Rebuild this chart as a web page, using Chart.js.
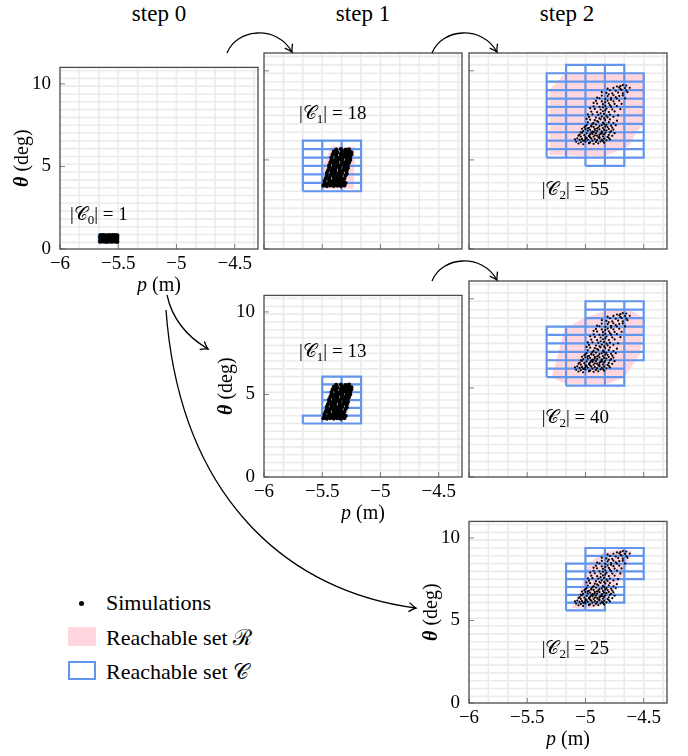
<!DOCTYPE html>
<html>
<head>
<meta charset="utf-8">
<script src="https://cdn.jsdelivr.net/npm/chart.js@4.4.1/dist/chart.umd.min.js"></script>
<style>
  body { margin: 0; background: #fff; }
  #page { position: relative; width: 688px; height: 756px; overflow: hidden; color: #000; }
  #page canvas { position: absolute; }
  .step { position: absolute; top: 2px; width: 120px; text-align: center; font-size: 23px; line-height: 1; }
  .leg { position: absolute; left: 106px; font-size: 22px; line-height: 1; white-space: nowrap; }
  svg { position: absolute; left: 0; top: 0; }
</style>
</head>
<body>
<div id="page" style="font-family:'Liberation Serif', serif">
  <div class="step" style="left:99px">step 0</div>
  <div class="step" style="left:303px">step 1</div>
  <div class="step" style="left:507px">step 2</div>

  <div style="position:absolute;left:79px;top:601px;width:5px;height:5px;border-radius:50%;background:#000"></div>
  <div class="leg" style="top:592px">Simulations</div>
  <div style="position:absolute;left:68px;top:627px;width:28px;height:19px;background:#ffd6de"></div>
  <div class="leg" style="top:627px">Reachable set ℛ</div>
  <div style="position:absolute;left:68px;top:661px;width:28px;height:19px;box-sizing:border-box;border:2.5px solid #6495ed"></div>
  <div class="leg" style="top:661px">Reachable set 𝒞</div>

  <svg width="688" height="756">
    <defs>
      <marker id="ah" viewBox="-10 -7 12 14" markerWidth="12" markerHeight="14" refX="0" refY="0" orient="auto" markerUnits="userSpaceOnUse">
        <path d="M -7 -4.5 Q -2.5 -1 0 0 Q -2.5 1 -7 4.5" fill="none" stroke="#000" stroke-width="1.3"/>
      </marker>
    </defs>
    <g fill="none" stroke="#000" stroke-width="1.3" marker-end="url(#ah)">
      <path d="M 227 53 C 237 28, 277 25, 292 52"/>
      <path d="M 432 53 C 442 28, 482 25, 497 52"/>
      <path d="M 432 281 C 442 256, 482 253, 497 280"/>
      <path d="M 167 295 C 172 318, 186 336, 208 349"/>
      <path d="M 166 310 C 180 500, 290 592, 416 608"/>
    </g>
  </svg>
</div>
<script>
// partition: p in m, theta in deg
const P0 = -6, DP = 1 / 6;
const TH0 = -0.07, DTH = 0.473;
const xRange = [-6, -4.3];
const yRange = [0, 11];
const xTickVals = [-6, -5.5, -5, -4.5];
const yTickVals = [0, 5, 10];

// cells as [column, first row, last row]
const cellsA = [[2, 1, 1]];
const cellsB = [[2, 7, 12], [3, 7, 12], [4, 7, 12]];
const cellsC = [[4, 11, 20], [5, 11, 21], [6, 10, 21], [7, 10, 21], [8, 11, 20]];
const cellsD = [[2, 7, 7], [3, 7, 12], [4, 7, 12]];
const cellsE = [[4, 12, 17], [5, 11, 17], [6, 11, 20], [7, 11, 20], [8, 14, 20]];
const cellsF = [[5, 12, 17], [6, 12, 19], [7, 13, 19], [8, 16, 19]];
const cellCounts = [1, 18, 55, 13, 40, 25];

// reachable set R outlines [p, theta]
const reachB = [[-5.50, 3.38], [-5.23, 3.38], [-5.22, 5.72], [-5.42, 5.76], [-5.50, 4.6]];
const reachC = [[-5.18, 9.85], [-4.49, 9.85], [-4.49, 7.05], [-4.56, 6.59], [-4.63, 5.75], [-4.84, 5.19], [-5.31, 5.28], [-5.31, 8.92], [-5.24, 9.39]];
const reachD = [[-5.51, 3.45], [-5.29, 3.45], [-5.23, 5.6], [-5.40, 5.62]];
const reachE = [[-5.29, 5.59], [-5.18, 8.29], [-5.01, 8.94], [-4.79, 9.40], [-4.62, 9.40], [-4.50, 8.94], [-4.53, 6.89], [-4.67, 5.59], [-4.81, 5.22], [-5.16, 5.22]];
const reachF = [[-5.12, 5.75], [-5.05, 6.6], [-4.98, 8.4], [-4.85, 9.1], [-4.68, 9.38], [-4.60, 9.2], [-4.66, 8.0], [-4.78, 6.6], [-4.86, 5.9], [-5.0, 5.68]];

// simulations [p, theta]
const sims0 = [
  [-5.655, 0.45], [-5.63, 0.47], [-5.605, 0.44], [-5.58, 0.46], [-5.555, 0.45], [-5.53, 0.47], [-5.51, 0.44],
  [-5.65, 0.58], [-5.625, 0.6], [-5.6, 0.57], [-5.575, 0.59], [-5.55, 0.6], [-5.525, 0.58], [-5.51, 0.6],
  [-5.655, 0.72], [-5.63, 0.7], [-5.605, 0.73], [-5.58, 0.71], [-5.555, 0.72], [-5.53, 0.7], [-5.51, 0.73],
  [-5.65, 0.83], [-5.625, 0.84], [-5.6, 0.82], [-5.575, 0.84], [-5.55, 0.83], [-5.525, 0.84], [-5.51, 0.82]
];
const sims1 = [
  [-5.49, 3.56], [-5.46, 3.53], [-5.43, 3.57], [-5.4, 3.54], [-5.37, 3.56], [-5.34, 3.53], [-5.31, 3.57],
  [-5.48, 3.69], [-5.45, 3.67], [-5.42, 3.7], [-5.39, 3.66], [-5.36, 3.69], [-5.33, 3.68], [-5.3, 3.7],
  [-5.48, 3.81], [-5.44, 3.84], [-5.41, 3.8], [-5.38, 3.83], [-5.35, 3.82], [-5.32, 3.84],
  [-5.47, 3.96], [-5.44, 3.94], [-5.4, 3.97], [-5.37, 3.93], [-5.34, 3.96], [-5.31, 3.95],
  [-5.46, 4.1], [-5.43, 4.12], [-5.4, 4.08], [-5.37, 4.11], [-5.34, 4.09], [-5.3, 4.12],
  [-5.46, 4.26], [-5.42, 4.23], [-5.39, 4.27], [-5.36, 4.24], [-5.33, 4.26], [-5.29, 4.23],
  [-5.45, 4.41], [-5.42, 4.38], [-5.39, 4.42], [-5.35, 4.39], [-5.32, 4.41], [-5.29, 4.4],
  [-5.44, 4.56], [-5.41, 4.53], [-5.38, 4.57], [-5.35, 4.54], [-5.31, 4.56], [-5.28, 4.55],
  [-5.44, 4.7], [-5.4, 4.72], [-5.37, 4.68], [-5.34, 4.71], [-5.31, 4.69], [-5.28, 4.72],
  [-5.43, 4.86], [-5.4, 4.83], [-5.37, 4.87], [-5.33, 4.84], [-5.3, 4.86], [-5.27, 4.85],
  [-5.42, 5.01], [-5.39, 4.98], [-5.36, 5.02], [-5.33, 4.99], [-5.29, 5.01], [-5.26, 5.0],
  [-5.42, 5.15], [-5.38, 5.17], [-5.35, 5.13], [-5.32, 5.16], [-5.29, 5.14], [-5.26, 5.17],
  [-5.41, 5.31], [-5.38, 5.28], [-5.34, 5.32], [-5.31, 5.29], [-5.28, 5.31], [-5.25, 5.3],
  [-5.4, 5.46], [-5.37, 5.43], [-5.33, 5.47], [-5.3, 5.44], [-5.27, 5.46], [-5.25, 5.43],
  [-5.38, 5.58], [-5.34, 5.6], [-5.3, 5.57], [-5.27, 5.59]
];
const sims2 = [
  [-5.06, 5.92], [-5.02, 5.88], [-4.97, 5.93], [-4.93, 5.9],
  [-5.08, 6.02], [-5.04, 5.99], [-5.0, 6.03], [-4.96, 5.98], [-4.91, 6.01], [-4.87, 6.04], [-4.84, 5.97],
  [-5.05, 6.12], [-5.01, 6.09], [-4.98, 6.13], [-4.94, 6.08], [-4.9, 6.11], [-4.86, 6.14], [-4.82, 6.1],
  [-5.07, 6.21], [-5.03, 6.18], [-4.99, 6.23], [-4.95, 6.2], [-4.92, 6.17], [-4.88, 6.22], [-4.84, 6.19], [-4.8, 6.24],
  [-5.04, 6.31], [-5.0, 6.28], [-4.97, 6.33], [-4.93, 6.3], [-4.89, 6.27], [-4.85, 6.32], [-4.81, 6.29],
  [-5.05, 6.42], [-5.01, 6.39], [-4.96, 6.43], [-4.92, 6.38], [-4.88, 6.41], [-4.84, 6.44], [-4.8, 6.4],
  [-5.03, 6.52], [-4.99, 6.49], [-4.95, 6.53], [-4.91, 6.5], [-4.87, 6.47], [-4.83, 6.52], [-4.79, 6.55],
  [-5.02, 6.61], [-4.98, 6.64], [-4.94, 6.59], [-4.9, 6.62], [-4.86, 6.6], [-4.82, 6.65], [-4.78, 6.61],
  [-5.0, 6.72], [-4.96, 6.69], [-4.92, 6.74], [-4.88, 6.71], [-4.84, 6.68], [-4.8, 6.73],
  [-5.01, 6.83], [-4.97, 6.8], [-4.93, 6.85], [-4.89, 6.82], [-4.85, 6.79], [-4.81, 6.84], [-4.77, 6.81],
  [-4.99, 6.96], [-4.95, 6.93], [-4.91, 6.98], [-4.86, 6.94], [-4.82, 6.97], [-4.78, 6.92],
  [-4.98, 7.11], [-4.93, 7.08], [-4.89, 7.13], [-4.85, 7.09], [-4.8, 7.12], [-4.76, 7.07],
  [-4.96, 7.26], [-4.92, 7.23], [-4.87, 7.28], [-4.83, 7.24], [-4.79, 7.27],
  [-4.97, 7.41], [-4.91, 7.38], [-4.86, 7.43], [-4.81, 7.39], [-4.76, 7.42],
  [-4.94, 7.56], [-4.89, 7.53], [-4.84, 7.58], [-4.79, 7.54],
  [-4.95, 7.71], [-4.9, 7.68], [-4.85, 7.73], [-4.8, 7.69], [-4.75, 7.72],
  [-4.92, 7.86], [-4.87, 7.83], [-4.82, 7.88], [-4.77, 7.84],
  [-4.93, 8.01], [-4.88, 7.98], [-4.83, 8.03], [-4.78, 7.99], [-4.73, 8.02],
  [-4.9, 8.16], [-4.85, 8.13], [-4.8, 8.18], [-4.75, 8.14],
  [-4.91, 8.31], [-4.86, 8.28], [-4.81, 8.33], [-4.76, 8.29], [-4.71, 8.32],
  [-4.88, 8.46], [-4.83, 8.43], [-4.78, 8.48], [-4.73, 8.44],
  [-4.86, 8.61], [-4.81, 8.58], [-4.76, 8.63], [-4.71, 8.59], [-4.68, 8.62],
  [-4.82, 8.76], [-4.77, 8.73], [-4.72, 8.78], [-4.68, 8.74],
  [-4.79, 8.91], [-4.74, 8.88], [-4.69, 8.93], [-4.65, 8.89],
  [-4.76, 9.04], [-4.71, 9.07], [-4.66, 9.03],
  [-4.7, 9.14], [-4.65, 9.17],
  [-5.02, 6.07], [-4.96, 6.26], [-4.9, 6.36], [-4.94, 6.46], [-4.86, 6.56], [-4.92, 6.66],
  [-4.98, 6.77], [-4.83, 6.88], [-4.88, 6.9], [-4.94, 7.02], [-4.9, 7.18], [-4.84, 7.33],
  [-5.09, 6.15], [-5.06, 6.36], [-5.04, 6.55], [-5.03, 6.75], [-5.0, 6.9], [-4.97, 5.95],
  [-4.89, 5.93], [-4.85, 6.06], [-4.79, 6.15], [-4.77, 6.35], [-4.75, 6.5], [-4.76, 6.7],
  [-4.74, 6.95], [-4.73, 7.2], [-4.72, 7.5], [-4.7, 7.85], [-4.69, 8.15], [-4.66, 8.45],
  [-4.64, 8.8], [-4.62, 9.05], [-4.99, 7.3], [-4.98, 7.55], [-4.96, 7.9], [-4.93, 8.2],
  [-4.9, 8.5], [-4.86, 8.8], [-4.81, 9.0], [-5.0, 6.17], [-4.97, 6.37], [-4.93, 6.56],
  [-4.88, 6.28], [-4.86, 6.47], [-4.9, 6.76], [-4.95, 6.88], [-4.84, 7.02], [-4.88, 7.33],
  [-4.82, 7.48], [-4.87, 7.62], [-4.83, 7.78], [-4.85, 7.95], [-4.79, 8.08], [-4.83, 8.24],
  [-4.78, 8.38], [-4.8, 8.68], [-4.74, 8.52], [-4.7, 8.98], [-4.73, 9.12], [-4.68, 9.2]
];

const SERIF = "'Liberation Serif', serif";
const SCRIPT = "'DejaVu Sans'";
const PINK = '#ffd6de';
const BLUE = '#6495ed';

// plot-area left/top on the page
const panels = [
  {left: 60, top: 53, cells: cellsA, reach: null, sims: sims0, r: 2.2, step: 0, at: [-5.914, 2.1], align: 'left', xLab: true, yLab: true},
  {left: 264, top: 53, cells: cellsB, reach: reachB, sims: sims1, r: 2.1, step: 1, at: [-5.41, 7.65], align: 'center'},
  {left: 469, top: 53, cells: cellsC, reach: reachC, sims: sims2, r: 1.1, step: 2, at: [-5.087, 3.38], align: 'center'},
  {left: 264, top: 281, cells: cellsD, reach: reachD, sims: sims1, r: 2.1, step: 1, at: [-5.41, 7.63], align: 'center', xLab: true, yLab: true},
  {left: 469, top: 281, cells: cellsE, reach: reachE, sims: sims2, r: 1.1, step: 2, at: [-5.087, 3.36], align: 'center'},
  {left: 469, top: 507, cells: cellsF, reach: reachF, sims: sims2, r: 1.1, step: 2, at: [-5.087, 3.34], align: 'center', xLab: true, yLab: true}
];

const CW = 262, CH = 248, ML = 60, MT = 6, MB = 46, MR = 4;

function cellOutlines(cells) {
  const pts = [];
  cells.forEach(([c, r0, r1]) => {
    const x0 = P0 + c * DP, x1 = P0 + (c + 1) * DP;
    for (let r = r0; r <= r1; r++) {
      const y0 = TH0 + r * DTH, y1 = TH0 + (r + 1) * DTH;
      pts.push({x: x0, y: y0}, {x: x1, y: y0}, {x: x1, y: y1}, {x: x0, y: y1}, {x: x0, y: y0}, {x: x0, y: null});
    }
  });
  return pts;
}

function drawRich(ctx, parts, x, y, align) {
  let w = 0;
  parts.forEach(p => { ctx.font = p.font; p.w = ctx.measureText(p.t).width; w += p.w; });
  let cx = align === 'center' ? x - w / 2 : x;
  parts.forEach(p => { ctx.font = p.font; ctx.fillText(p.t, cx, y + (p.dy || 0)); cx += p.w; });
}

const deco = {
  id: 'deco',
  beforeDatasetsDraw(chart) {
    const {ctx, chartArea: a, scales: {x, y}} = chart;
    ctx.save();
    ctx.beginPath();
    ctx.rect(a.left, a.top, a.width, a.height);
    ctx.clip();
    ctx.strokeStyle = '#ebebeb';
    ctx.lineWidth = 1.6;
    for (let c = 1; P0 + c * DP < x.max; c++) {
      const px = x.getPixelForValue(P0 + c * DP);
      ctx.beginPath(); ctx.moveTo(px, a.top); ctx.lineTo(px, a.bottom); ctx.stroke();
    }
    for (let r = 1; TH0 + r * DTH < y.max; r++) {
      const py = y.getPixelForValue(TH0 + r * DTH);
      ctx.beginPath(); ctx.moveTo(a.left, py); ctx.lineTo(a.right, py); ctx.stroke();
    }
    ctx.restore();
  },
  afterDraw(chart) {
    const {ctx, chartArea: a, scales: {x, y}} = chart;
    const p = chart.options.plugins.deco;
    ctx.save();
    // inward tick marks
    ctx.strokeStyle = '#808080';
    ctx.lineWidth = 1;
    x.ticks.forEach(t => {
      const px = x.getPixelForValue(t.value);
      ctx.beginPath(); ctx.moveTo(px, a.bottom); ctx.lineTo(px, a.bottom - 5); ctx.stroke();
    });
    y.ticks.forEach(t => {
      const py = y.getPixelForValue(t.value);
      ctx.beginPath(); ctx.moveTo(a.left, py); ctx.lineTo(a.left + 5, py); ctx.stroke();
    });
    // frame
    ctx.strokeStyle = '#4a4a4a';
    ctx.lineWidth = 1.3;
    ctx.strokeRect(a.left, a.top, a.width, a.height);
    // |C_k| = n
    ctx.fillStyle = '#000';
    ctx.textBaseline = 'alphabetic';
    drawRich(ctx, [
      {t: '|', font: '19px ' + SERIF},
      {t: '𝒞', font: '19px ' + SCRIPT},
      {t: String(p.step), font: '13px ' + SERIF, dy: 4},
      {t: '| = ' + p.count, font: '19px ' + SERIF}
    ], x.getPixelForValue(p.at[0]), y.getPixelForValue(p.at[1]) + 6, p.align);
    // axis titles
    if (p.xLab) {
      drawRich(ctx, [
        {t: 'p', font: 'italic 20px ' + SERIF},
        {t: ' (m)', font: '20px ' + SERIF}
      ], (a.left + a.right) / 2, a.bottom + 42, 'center');
    }
    if (p.yLab) {
      ctx.translate(a.left - 38, (a.top + a.bottom) / 2);
      ctx.rotate(-Math.PI / 2);
      drawRich(ctx, [
        {t: 'θ', font: 'bold italic 20px ' + SERIF},
        {t: ' (deg)', font: '20px ' + SERIF}
      ], 0, 6, 'center');
    }
    ctx.restore();
  }
};

const fmt = v => (v < 0 ? '\u2212' + Math.abs(v) : String(v));
const page = document.getElementById('page');

panels.forEach((p, i) => {
  const cv = document.createElement('canvas');
  cv.width = CW; cv.height = CH;
  cv.style.left = (p.left - ML) + 'px';
  cv.style.top = (p.top - MT) + 'px';
  page.insertBefore(cv, page.querySelector('svg'));

  const datasets = [
    {
      type: 'scatter', data: p.sims.map(([px, py]) => ({x: px, y: py})),
      pointRadius: p.r, pointBackgroundColor: '#000', pointBorderWidth: 0, order: 0
    },
    {
      type: 'line', data: cellOutlines(p.cells), borderColor: BLUE, borderWidth: 2.2,
      borderJoinStyle: 'miter', pointRadius: 0, spanGaps: false, fill: false, tension: 0, order: 1
    }
  ];
  if (p.reach) {
    const pts = p.reach.concat([p.reach[0]]).map(([px, py]) => ({x: px, y: py}));
    datasets.push({
      type: 'line', data: pts, borderWidth: 0, borderColor: PINK, backgroundColor: PINK,
      fill: 'shape', pointRadius: 0, tension: 0, order: 2
    });
  }

  new Chart(cv, {
    type: 'scatter',
    data: {datasets},
    options: {
      responsive: false,
      animation: false,
      events: [],
      layout: {padding: {top: MT, right: MR, left: 0, bottom: 0}, autoPadding: false},
      plugins: {
        legend: {display: false},
        tooltip: {enabled: false},
        deco: {step: p.step, count: cellCounts[i], at: p.at, align: p.align, xLab: !!p.xLab, yLab: !!p.yLab}
      },
      scales: {
        x: {
          type: 'linear', min: xRange[0], max: xRange[1],
          grid: {display: false, drawTicks: false}, border: {display: false},
          afterBuildTicks: s => { s.ticks = xTickVals.map(v => ({value: v})); },
          afterFit: s => { s.height = MB; },
          ticks: {display: !!p.xLab, padding: 4, color: '#000', font: {family: SERIF, size: 19}, callback: fmt}
        },
        y: {
          type: 'linear', min: yRange[0], max: yRange[1],
          grid: {display: false, drawTicks: false}, border: {display: false},
          afterBuildTicks: s => { s.ticks = yTickVals.map(v => ({value: v})); },
          afterFit: s => { s.width = ML; },
          ticks: {display: !!p.yLab, padding: 9, color: '#000', font: {family: SERIF, size: 19}, callback: fmt}
        }
      }
    },
    plugins: [deco]
  });
});
</script>
</body>
</html>
